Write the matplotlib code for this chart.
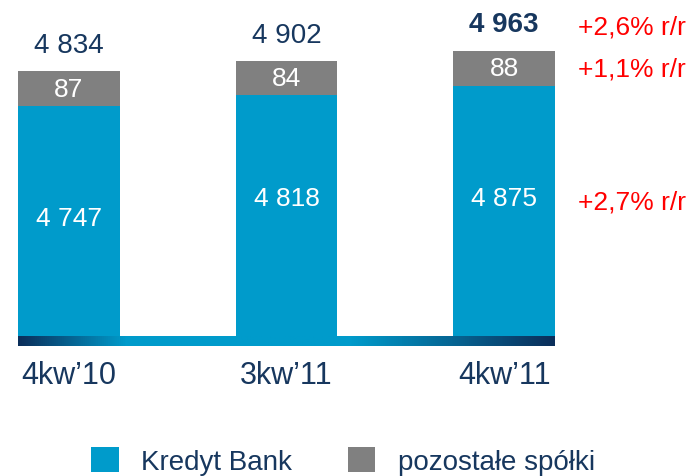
import matplotlib
matplotlib.use("Agg")
import matplotlib.pyplot as plt
import numpy as np
from matplotlib.colors import LinearSegmentedColormap
from matplotlib.patches import Patch

# ---- data ----
categories = ["4kw\u201910", "3kw\u201911", "4kw\u201911"]
kredyt_bank = [4747, 4818, 4875]
pozostale = [87, 84, 88]
totals = [4834, 4902, 4963]
growth_labels = ["+2,6% r/r", "+1,1% r/r", "+2,7% r/r"]
series_names = ["Kredyt Bank", "pozosta\u0142e sp\u00f3\u0142ki"]

# ---- style ----
BLUE = "#009BCB"
GRAY = "#808080"
NAVY = "#17375E"
RED = "#FF0000"
DARK = "#0B2E5A"

plt.rcParams['font.family'] = ['Liberation Sans', 'DejaVu Sans']

def fmt(v):
    return f"{v:,}".replace(",", " ")

fig = plt.figure(figsize=(6.9, 4.77), dpi=100)
ax = fig.add_axes([18/690, 1-347/477, 537/690, 347/477])

x = np.arange(len(categories))
w = 0.468
base = 3310          # visual axis start (chart is not zero based)
gray_scale = 2.5     # display enlargement for the small segment
x0, x1 = -w/2, len(categories) - 1 + w/2
y0, y1 = 3248, 5417

# gradient baseline band
cmap = LinearSegmentedColormap.from_list(
    "band", [(0, DARK), (0.2, BLUE), (0.62, BLUE), (1.0, DARK)])
grad = np.linspace(0, 1, 512).reshape(1, -1)
ax.imshow(grad, extent=(x0, x1, y0, base), aspect='auto', cmap=cmap, zorder=1)

blue_h = [v - base for v in kredyt_bank]
gray_h = [v * gray_scale for v in pozostale]
ax.bar(x, blue_h, w, bottom=base, color=BLUE, zorder=2, linewidth=0)
ax.bar(x, gray_h, w, bottom=kredyt_bank, color=GRAY, zorder=2, linewidth=0)

ax.set_xlim(x0, x1)
ax.set_ylim(y0, y1)

inner_label_y = [4050, 4170, 4170]
for i in range(len(categories)):
    ax.text(x[i], inner_label_y[i], fmt(kredyt_bank[i]), ha='center', va='center',
            color='white', fontsize=19, zorder=3)
    ax.text(x[i], kredyt_bank[i] + gray_h[i] / 2, fmt(pozostale[i]), ha='center',
            va='center', color='white', fontsize=19, zorder=3)
    top = kredyt_bank[i] + gray_h[i]
    ax.annotate(fmt(totals[i]), (x[i], top), xytext=(0, 19), textcoords='offset points',
                ha='center', va='center', color=NAVY, fontsize=20,
                fontweight='bold' if i == len(categories) - 1 else 'normal')

ax.set_xticks(x)
ax.set_xticklabels(categories, fontsize=22, color=NAVY)
ax.tick_params(axis='x', length=0, pad=10)
ax.set_yticks([])
for s in ax.spines.values():
    s.set_visible(False)
ax.patch.set_alpha(0)

# growth annotations
growth_y = [27, 70, 203]
for lab, py in zip(growth_labels, growth_y):
    fig.text(686/690, 1 - py/477, lab, ha='right', va='center', color=RED, fontsize=19)

handles = [Patch(facecolor=BLUE), Patch(facecolor=GRAY)]
fig.legend(handles, series_names, loc='center', bbox_to_anchor=(0.497, 1 - 462/477),
           ncol=2, frameon=False, fontsize=20, handlelength=1.0, handleheight=1.0,
           handletextpad=0.8, columnspacing=2.0, labelcolor=NAVY)

fig.savefig("out.png", dpi=100)
